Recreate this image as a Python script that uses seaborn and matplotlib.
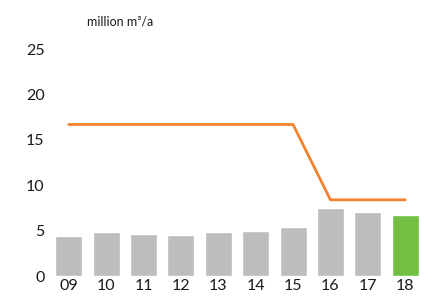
import matplotlib
matplotlib.use("Agg")
import matplotlib.pyplot as plt
import seaborn as sns
import pandas as pd

years = ["09", "10", "11", "12", "13", "14", "15", "16", "17", "18"]
volumes = [4.4, 4.8, 4.6, 4.5, 4.8, 4.95, 5.4, 7.5, 7.1, 6.7]
limit = [16.7, 16.7, 16.7, 16.7, 16.7, 16.7, 16.7, 8.4, 8.4, 8.4]
yticks = [0, 5, 10, 15, 20, 25]
unit_label = "million m\u00b3/a"

gray = "#BCBDBF"
green = "#72BF44"
orange = "#F58232"

sns.set_theme(style="white")
plt.rcParams["font.family"] = ["Lato", "DejaVu Sans"]

df = pd.DataFrame({"year": years, "volume": volumes, "limit": limit,
                   "pos": range(len(years))})
colors = [gray] * (len(years) - 1) + [green]

fig = plt.figure(figsize=(4.33, 3.04), dpi=100)
ax = fig.add_axes([0.1155, 0.092, 0.8635, 0.776])

sns.barplot(data=df, x="year", y="volume", hue="year", palette=colors,
            legend=False, width=0.72, ax=ax, saturation=1)
sns.lineplot(data=df, x="pos", y="limit", color=orange, linewidth=2, ax=ax)

ax.set_xlim(-0.5, len(years) - 0.5)
ax.set_ylim(0, 26)
ax.set_yticks(yticks)
ax.set_xticks(range(len(years)))
ax.set_xticklabels(years)
ax.set_xlabel("")
ax.set_ylabel("")
sns.despine(ax=ax, left=True, bottom=True, top=True, right=True)
ax.tick_params(axis="both", length=0, labelsize=11.5, colors="#1a1a1a")
ax.tick_params(axis="y", pad=4)
ax.tick_params(axis="x", pad=2)
ax.grid(False)

fig.text(0.201, 0.93, unit_label, ha="left", va="center", fontsize=9, color="#1a1a1a")

fig.savefig("out.png", dpi=100)
